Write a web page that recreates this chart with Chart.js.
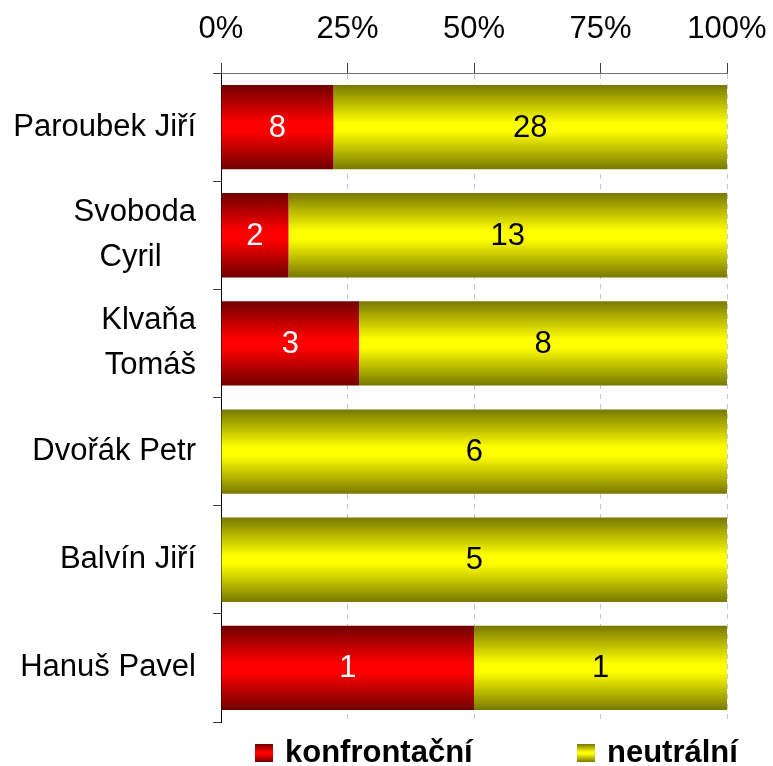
<!DOCTYPE html>
<html>
<head>
<meta charset="utf-8">
<script src="https://cdn.jsdelivr.net/npm/chart.js@4.4.1/dist/chart.umd.min.js"></script>
<style>
  html, body { margin: 0; padding: 0; background: #fff; }
  canvas { display: block; }
</style>
</head>
<body>
<canvas id="chart" width="773" height="766"></canvas>
<script>
const categories = ["Paroubek Jiří", ["Svoboda", "Cyril"], ["Klvaňa", "Tomáš"], "Dvořák Petr", "Balvín Jiří", "Hanuš Pavel"];
const konfrontacni = [8, 2, 3, 0, 0, 1];
const neutralni = [28, 13, 8, 6, 5, 1];
const seriesNames = ["konfrontační", "neutrální"];
const xTickValues = [0, 25, 50, 75, 100];

const FONT = '"Liberation Sans", Arial, sans-serif';
const FONT_SIZE = 31;
const BAR_SHARE = 0.78;

const totals = konfrontacni.map((v, i) => v + neutralni[i]);
const pct = (arr) => arr.map((v, i) => (totals[i] ? (v / totals[i]) * 100 : 0));

const shades = [
  { dark: "#700000", light: "#ff0000" },
  { dark: "#787800", light: "#ffff00" },
];

function vGradient(ctx, y0, y1, shade) {
  const g = ctx.createLinearGradient(0, y0, 0, y1);
  g.addColorStop(0, shade.dark);
  g.addColorStop(0.45, shade.light);
  g.addColorStop(0.55, shade.light);
  g.addColorStop(1, shade.dark);
  return g;
}

function barFill(shade) {
  return (c) => {
    const chart = c.chart;
    const y = chart.scales.y;
    if (!chart.chartArea || !y || c.dataIndex === undefined) return shade.light;
    const center = y.getPixelForValue(c.dataIndex);
    const half = (y.height / categories.length) * BAR_SHARE / 2;
    return vGradient(chart.ctx, center - half, center + half, shade);
  };
}

// centre the lines of two-line names against each other (labels are right aligned)
const measureCtx = document.createElement("canvas").getContext("2d");
measureCtx.font = FONT_SIZE + "px " + FONT;
function centreLines(lines) {
  const widths = lines.map((l) => measureCtx.measureText(l).width);
  const max = Math.max(...widths);
  const sp = measureCtx.measureText(" ").width;
  return lines.map((l, i) => l + " ".repeat(Math.round((max - widths[i]) / 2 / sp)));
}

const valueLabels = {
  id: "valueLabels",
  afterDatasetsDraw(chart) {
    const ctx = chart.ctx;
    const raw = [konfrontacni, neutralni];
    ctx.save();
    ctx.font = FONT_SIZE + "px " + FONT;
    ctx.textAlign = "center";
    ctx.textBaseline = "middle";
    chart.data.datasets.forEach((ds, di) => {
      ctx.fillStyle = di === 0 ? "#ffffff" : "#000000";
      chart.getDatasetMeta(di).data.forEach((el, i) => {
        if (!raw[di][i]) return;
        ctx.fillText(String(raw[di][i]), (el.x + el.base) / 2, el.y + 1);
      });
    });
    ctx.restore();
  },
};

const bottomLegend = {
  id: "bottomLegend",
  afterDraw(chart) {
    const ctx = chart.ctx;
    const items = [
      { x: 255, text: seriesNames[0], shade: shades[0] },
      { x: 577, text: seriesNames[1], shade: shades[1] },
    ];
    ctx.save();
    ctx.font = "bold " + FONT_SIZE + "px " + FONT;
    ctx.textBaseline = "alphabetic";
    items.forEach((it) => {
      ctx.fillStyle = vGradient(ctx, 744, 762, it.shade);
      ctx.fillRect(it.x, 744, 18, 18);
      ctx.fillStyle = "#000";
      ctx.fillText(it.text, it.x + 30, 762);
    });
    ctx.restore();
  },
};

new Chart(document.getElementById("chart"), {
  type: "bar",
  data: {
    labels: categories,
    datasets: [
      {
        label: seriesNames[0],
        data: pct(konfrontacni),
        backgroundColor: barFill(shades[0]),
        borderWidth: 0,
        barPercentage: 1,
        categoryPercentage: BAR_SHARE,
      },
      {
        label: seriesNames[1],
        data: pct(neutralni),
        backgroundColor: barFill(shades[1]),
        borderWidth: 0,
        barPercentage: 1,
        categoryPercentage: BAR_SHARE,
      },
    ],
  },
  options: {
    indexAxis: "y",
    responsive: false,
    devicePixelRatio: 1,
    animation: false,
    layout: { padding: { left: 0, right: 46, top: 0, bottom: 44 } },
    plugins: {
      legend: { display: false },
      tooltip: { enabled: false },
    },
    scales: {
      x: {
        position: "top",
        stacked: true,
        min: 0,
        max: 100,
        afterBuildTicks: (scale) => {
          scale.ticks = xTickValues.map((v) => ({ value: v }));
        },
        afterFit: (scale) => {
          scale.height = 73;
          scale.paddingLeft = 0;
          scale.paddingRight = 0;
        },
        ticks: {
          callback: (v) => v + "%",
          color: "#000",
          padding: 15,
          font: { size: FONT_SIZE, family: FONT },
          maxRotation: 0,
        },
        grid: {
          color: "#c8c8c8",
          lineWidth: 1,
          tickLength: 10,
          tickColor: "#404040",
          tickWidth: 1,
        },
        border: { color: "#707070", width: 1, dash: [5, 5] },
      },
      y: {
        stacked: true,
        afterFit: (scale) => {
          scale.width = 221;
          scale.paddingTop = 0;
          scale.paddingBottom = 0;
        },
        ticks: {
          callback: function (value) {
            const label = this.getLabelForValue(value);
            return Array.isArray(label) ? centreLines(label) : label;
          },
          color: "#000",
          padding: 17,
          font: { size: FONT_SIZE, family: FONT, lineHeight: 1.45 },
        },
        grid: {
          drawOnChartArea: false,
          tickLength: 8,
          tickColor: "#404040",
          color: "#404040",
        },
        border: { color: "#000", width: 1 },
      },
    },
  },
  plugins: [valueLabels, bottomLegend],
});
</script>
</body>
</html>
